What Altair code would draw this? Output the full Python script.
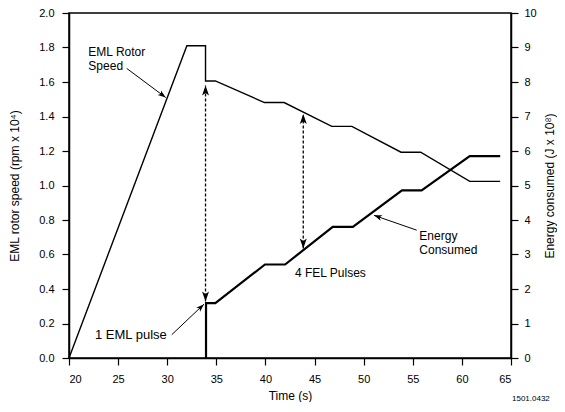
import altair as alt
import pandas as pd

# ---------------- data ----------------
rotor_t = [20.0, 32.0, 33.9, 33.9, 34.9, 39.9, 41.9, 46.75, 48.8, 53.8, 55.8, 60.8, 63.9]
rotor_speed = [0.0, 1.81, 1.81, 1.606, 1.606, 1.481, 1.481, 1.343, 1.343, 1.193, 1.193, 1.024, 1.024]

energy_t = [33.95, 33.95, 34.9, 39.95, 42.0, 46.85, 48.9, 53.9, 55.9, 60.8, 63.9]
energy_j = [0.0, 1.59, 1.59, 2.71, 2.71, 3.80, 3.80, 4.86, 4.86, 5.85, 5.85]

pulse_t = [33.9, 43.85]
pulse_top = [1.579, 1.414]
pulse_bottom = [0.327, 0.635]

label_text = ["EML Rotor", "Speed", "1 EML pulse", "4 FEL Pulses", "Energy", "Consumed", "1501.0432"]
label_t = [21.97, 21.97, 22.65, 43.0, 55.67, 55.67, 65.1]
label_y = [1.775, 1.693, 0.131, 0.49, 0.708, 0.627, -0.235]
label_fs = [12, 12, 13, 12, 12, 12, 8]

pointer_t0 = [25.87, 30.46, 55.40]
pointer_y0 = [1.679, 0.135, 0.741]
pointer_t1 = [29.85, 33.74, 51.05]
pointer_y1 = [1.51, 0.312, 0.827]
pointer_angle = [126.3, 46.5, 289.3]

x_ticks = [20, 25, 30, 35, 40, 45, 50, 55, 60, 65]
left_ticks = [0.0, 0.2, 0.4, 0.6, 0.8, 1.0, 1.2, 1.4, 1.6, 1.8, 2.0]
right_ticks = [0, 1, 2, 3, 4, 5, 6, 7, 8, 9, 10]

# ---------------- tables ----------------
rotor_df = pd.DataFrame({"t": rotor_t, "v": rotor_speed, "i": range(len(rotor_t))})
energy_df = pd.DataFrame({"t": energy_t, "e": energy_j, "i": range(len(energy_t))})
pulse_df = pd.DataFrame({"t": pulse_t, "top": pulse_top, "bot": pulse_bottom})
heads_df = pd.DataFrame({
    "t": pulse_t + pulse_t,
    "v": pulse_top + pulse_bottom,
    "ang": [0.0] * len(pulse_t) + [180.0] * len(pulse_t),
})
label_df = pd.DataFrame({"txt": label_text, "t": label_t, "v": label_y, "fs": label_fs})
pointer_df = pd.DataFrame({"t0": pointer_t0, "v0": pointer_y0, "t1": pointer_t1,
                           "v1": pointer_y1, "ang": pointer_angle})

FONT = "Liberation Sans"
ARROW = "M0,0 L0.35,1 L0,0.75 L-0.35,1 Z"

x_axis = alt.Axis(values=x_ticks, title="Time (s)", tickSize=7, labelPadding=8,
                  titlePadding=6, grid=False)
left_axis = alt.Axis(values=left_ticks, format=".1f", title="EML rotor speed (rpm x 10⁴)",
                     tickSize=7, labelPadding=8, titlePadding=17, grid=False)
right_axis = alt.Axis(values=right_ticks, format="d", orient="right",
                      title="Energy consumed (J x 10⁸)", tickSize=7, labelPadding=6,
                      titlePadding=8, titleAngle=270, titleBaseline="top", grid=False)

xs = alt.Scale(domain=[20, 65], nice=False, zero=False)
ys = alt.Scale(domain=[0, 2], nice=False)


def X(f):
    return alt.X(f, type="quantitative", scale=xs, axis=x_axis)


def Y(f):
    return alt.Y(f, type="quantitative", scale=ys, axis=left_axis)


rotor = alt.Chart(rotor_df).mark_line(color="black", strokeWidth=1.4).encode(
    x=X("t"), y=Y("v"), order=alt.Order("i:Q"))

pulses = alt.Chart(pulse_df).mark_rule(color="black", strokeWidth=1.3, strokeDash=[3, 2]).encode(
    x=X("t"), y=Y("bot"), y2=alt.Y2("top"))

heads = alt.Chart(heads_df).mark_point(shape=ARROW, filled=True, size=400, color="black",
                                       opacity=1, strokeWidth=0).encode(
    x=X("t"), y=Y("v"), angle=alt.Angle("ang:Q", scale=None))

pointer_lines = alt.Chart(pointer_df).mark_rule(color="black", strokeWidth=1).encode(
    x=X("t0"), x2=alt.X2("t1"), y=Y("v0"), y2=alt.Y2("v1"))

pointer_heads = alt.Chart(pointer_df).mark_point(shape=ARROW, filled=True, size=256,
                                                 color="black", opacity=1, strokeWidth=0).encode(
    x=X("t1"), y=Y("v1"), angle=alt.Angle("ang:Q", scale=None))

labels = alt.Chart(label_df).mark_text(align="left", baseline="middle", font=FONT,
                                       color="black").encode(
    x=X("t"), y=Y("v"), text="txt:N", size=alt.Size("fs:Q", scale=None, legend=None))

left_group = alt.layer(rotor, pulses, heads, pointer_lines, pointer_heads, labels)

energy = alt.Chart(energy_df).mark_line(color="black", strokeWidth=2.2).encode(
    x=X("t"),
    y=alt.Y("e", type="quantitative", scale=alt.Scale(domain=[0, 10], nice=False), axis=right_axis),
    order=alt.Order("i:Q"))

chart = alt.layer(left_group, energy).resolve_scale(y="independent").properties(
    width=442, height=345,
    autosize=alt.AutoSizeParams(type="none"),
    padding={"left": 61, "top": 5, "right": 46, "bottom": 44},
).configure_view(
    stroke="black", strokeWidth=1.5
).configure_axis(
    domainColor="black", domainWidth=1.5, tickColor="black", tickWidth=1.2,
    labelColor="black", labelFont=FONT, labelFontSize=11,
    titleColor="black", titleFont=FONT, titleFontSize=12, titleFontWeight="normal",
)

chart.save("out.html", embed_options={"renderer": "svg", "actions": False})
